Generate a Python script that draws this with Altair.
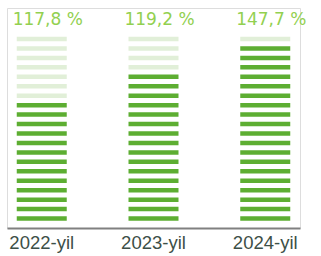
import altair as alt
import pandas as pd

years = ["2022-yil", "2023-yil", "2024-yil"]
value_labels = ["117,8 %", "119,2 %", "147,7 %"]
dark_counts = [13, 16, 19]
total_stripes = 20

rows = []
for y, d in zip(years, dark_counts):
    for i in range(1, total_stripes + 1):
        rows.append({"year": y, "idx": i, "kind": "dark" if i <= d else "light"})
stripes = pd.DataFrame(rows)
labels = pd.DataFrame({"year": years, "label": value_labels, "idx": [total_stripes] * 3})

x_enc = alt.X("year:N", sort=years,
              scale=alt.Scale(paddingInner=0.556, paddingOuter=0.089),
              axis=alt.Axis(title=None, labelAngle=0, ticks=False, domainColor="#808080",
                            domainWidth=2, labelFont="Liberation Sans", labelFontSize=18.5,
                            labelColor="#3D4F47", labelPadding=5, grid=False))
y_scale = alt.Scale(domain=[0, 23.28], nice=False, zero=True)

bars = alt.Chart(stripes).mark_tick(thickness=4.5, size=50, opacity=1).encode(
    x=x_enc,
    y=alt.Y("idx:Q", scale=y_scale, axis=None),
    color=alt.Color("kind:N", scale=alt.Scale(domain=["dark", "light"],
                                               range=["#5DAE32", "#E1EFD8"]), legend=None),
)

text = alt.Chart(labels).mark_text(font="DejaVu Sans", fontSize=17, color="#92D050",
                                   baseline="alphabetic", dy=-14, dx=6).encode(
    x=alt.X("year:N", sort=years),
    y=alt.Y("idx:Q", scale=y_scale),
    text="label:N",
)

chart = alt.layer(bars, text).properties(
    width=293, height=220,
    padding={"left": 7, "top": 8, "right": 21, "bottom": 28},
    autosize=alt.AutoSizeParams(type="none"),
).configure_view(stroke=None).configure(background="white")

chart.save("out.html", embed_options={"renderer": "svg", "actions": False})
